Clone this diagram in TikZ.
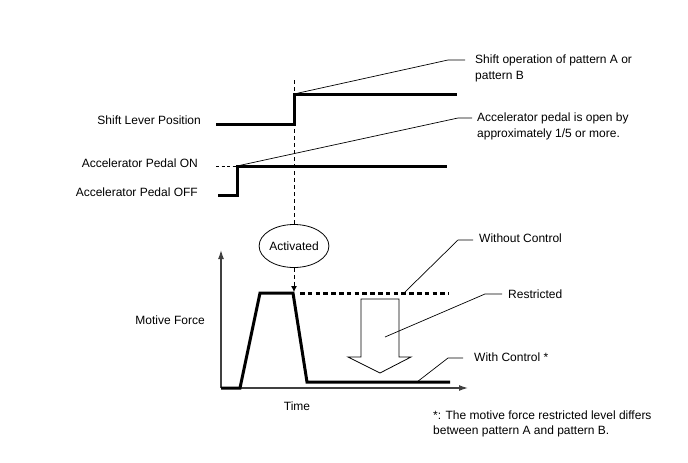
\documentclass[tikz,border=0pt]{standalone}
\usepackage{fontspec}
\setmainfont{Liberation Sans}
\usetikzlibrary{shapes.geometric,arrows.meta}
\begin{document}
\begin{tikzpicture}[x=1pt,y=-1pt,
  lbl/.style={font=\fontsize{12}{16}\selectfont,inner sep=0pt,align=left},
  thickline/.style={line width=3pt,line join=miter},
  leader/.style={line width=0.7pt},
  guide/.style={line width=0.8pt,dash pattern=on 4pt off 3pt},
  axis/.style={line width=1.3pt,black!75,-{Latex[length=9pt,width=6pt]}}]
\useasboundingbox (0,0) rectangle (688,463);
% labels
\node[lbl,anchor=east] (lslp) at (201,120) {Shift Lever Position};
\node[lbl,anchor=east] (lapon) at (198,163) {Accelerator Pedal ON};
\node[lbl,anchor=east] (lapoff) at (198,192) {Accelerator Pedal OFF};
\node[lbl,anchor=west] (tshift) at (475,68) {Shift operation of pattern A or\\pattern B};
\node[lbl,anchor=west] (taccel) at (477,126) {Accelerator pedal is open by\\approximately 1/5 or more.};
% shift lever
\coordinate (s0) at (216,124);
\coordinate (s1) at (294,124);
\coordinate (s2) at (294,94);
\coordinate (s3) at (457,94);
\draw[thickline] (s0) -- (s1) -- (s2) -- (s3);
% accelerator
\coordinate (a0) at (218,195);
\coordinate (a1) at (237,195);
\coordinate (a2) at (237,166);
\coordinate (a3) at (447,166);
\coordinate (ad) at (216,166);
\draw[thickline] (a0) -- (a1) -- (a2) -- (a3);
\draw[line width=0.8pt,dash pattern=on 3pt off 2.5pt] (ad) -- (a2);
% leaders top
\coordinate (k1) at (448,60);
\coordinate (k1e) at (465,60);
\draw[leader] (s2) -- (k1) -- (k1e);
\coordinate (k2) at (458,118);
\coordinate (k2e) at (472,118);
\draw[leader] (a2) -- (k2) -- (k2e);
% activated
\node[draw,ellipse,line width=0.8pt,minimum width=67pt,minimum height=43pt,inner sep=0pt,font=\fontsize{12}{14}\selectfont] (act) at (294,246) {Activated};
\coordinate (vtop) at (294,80);
\draw[guide] (vtop) -- (act.north);
\coordinate (m3) at (294,292);
\draw[guide,-{Latex[length=6pt,width=6pt]}] (act.south) -- (m3);
% axes
\coordinate (o) at (221,388);
\coordinate (yt) at (221,250);
\coordinate (xt) at (468,388);
\draw[axis] (o) -- (yt);
\draw[axis] (o) -- (xt);
\node[lbl,anchor=east] (mf) at (205,320) {Motive Force};
\node[lbl] (time) at (297,406) {Time};
% motive force curve
\coordinate (m0) at (221,388);
\coordinate (m1) at (240,388);
\coordinate (m2) at (260,293);
\coordinate (m3b) at (293,293);
\coordinate (m4) at (307,382);
\coordinate (m5) at (450,382);
\draw[thickline] (m0) -- (m1) -- (m2) -- (m3b) -- (m4) -- (m5);
\coordinate (w0) at (300,293);
\coordinate (w1) at (449,293);
\draw[line width=3pt,dash pattern=on 4.5pt off 3.3pt] (w0) -- (w1);
% hollow arrow
\draw[line width=0.8pt,fill=white,line join=miter] (361,299) -- (399,299) -- (399,357) -- (411,357) -- (380,373) -- (348,357) -- (361,357) -- cycle;
\coordinate (rin) at (385,337);
% leaders bottom
\node[lbl,anchor=west] (two) at (479,238) {Without Control};
\node[lbl,anchor=west] (tres) at (508,294) {Restricted};
\node[lbl,anchor=west] (twc) at (474,357) {With Control *};
\coordinate (wo) at (404,293);
\coordinate (wok) at (458,240);
\coordinate (woe) at (473,240);
\draw[leader] (wo) -- (wok) -- (woe);
\coordinate (rk) at (485,294);
\coordinate (re) at (502,294);
\draw[leader] (rin) -- (rk) -- (re);
\coordinate (wc) at (417,382);
\coordinate (wck) at (448,358);
\coordinate (wce) at (463,358);
\draw[leader] (wc) -- (wck) -- (wce);
% footnote
\node[lbl,anchor=west,font=\fontsize{12}{14.5}\selectfont] (foot) at (433,424) {*: The motive force restricted level differs\\between pattern A and pattern B.};
\end{tikzpicture}
\end{document}
